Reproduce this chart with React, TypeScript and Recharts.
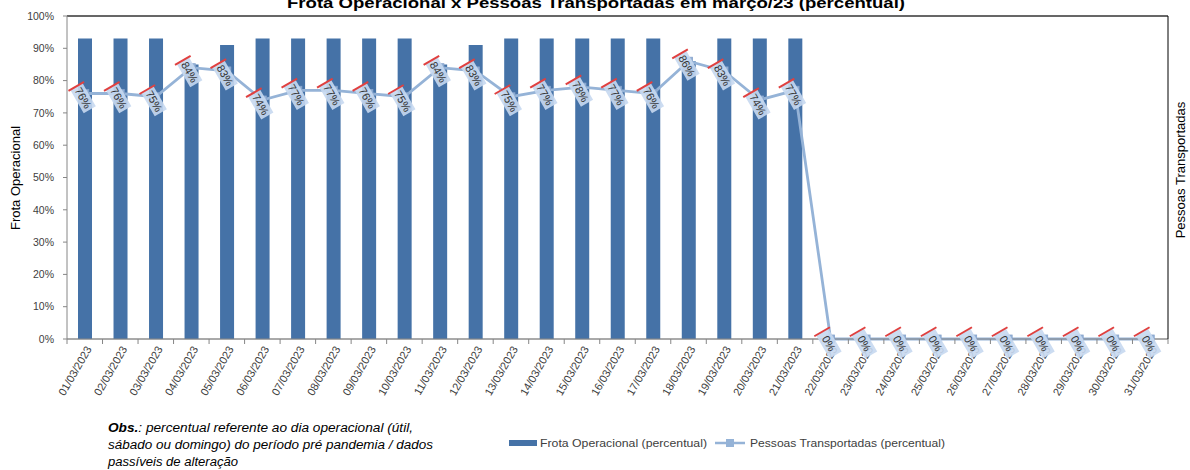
import {
  Bar,
  CartesianGrid,
  ComposedChart,
  LabelList,
  Line,
  ReferenceLine,
  XAxis,
  YAxis,
} from 'recharts';

const DATES = [
  '01/03/2023', '02/03/2023', '03/03/2023', '04/03/2023', '05/03/2023',
  '06/03/2023', '07/03/2023', '08/03/2023', '09/03/2023', '10/03/2023',
  '11/03/2023', '12/03/2023', '13/03/2023', '14/03/2023', '15/03/2023',
  '16/03/2023', '17/03/2023', '18/03/2023', '19/03/2023', '20/03/2023',
  '21/03/2023', '22/03/2023', '23/03/2023', '24/03/2023', '25/03/2023',
  '26/03/2023', '27/03/2023', '28/03/2023', '29/03/2023', '30/03/2023',
  '31/03/2023',
];

// Frota Operacional (percentual)
const FROTA = [
  93, 93, 93, 85, 91, 93, 93, 93, 93, 93, 85, 91, 93, 93, 93, 93, 93, 86, 93, 93,
  93, 0, 0, 0, 0, 0, 0, 0, 0, 0, 0,
];

// Pessoas Transportadas (percentual)
const PESSOAS = [
  76, 76, 75, 84, 83, 74, 77, 77, 76, 75, 84, 83, 75, 77, 78, 77, 76, 86, 83, 74,
  77, 0, 0, 0, 0, 0, 0, 0, 0, 0, 0,
];

const Y_TICKS = [0, 10, 20, 30, 40, 50, 60, 70, 80, 90, 100];

const TITLE = 'Frota Operacional x Pessoas Transportadas em março/23 (percentual)';
const OBS_LINES = [
  'percentual referente ao dia operacional (útil,',
  'sábado ou domingo) do período pré pandemia / dados',
  'passíveis de alteração',
];

const data = DATES.map((date, i) => ({ date, frota: FROTA[i], pessoas: PESSOAS[i] }));

const FONT = '"Liberation Sans", Arial, sans-serif';
const TEXT = '#404040';
const BAR_COLOR = '#4572A7';
const LINE_COLOR = '#95B3D7';

const PLOT_LEFT = 67;
const PLOT_RIGHT = 1168;
const BAND = (PLOT_RIGHT - PLOT_LEFT) / DATES.length;

function DateTick(props: any) {
  const { x, y, payload, index } = props;
  const half = BAND / 2;
  const tx = x + 4;
  const ty = y + 8;
  return (
    <g>
      <line x1={x - half} x2={x - half} y1={y} y2={y + 5} stroke="#868686" />
      {index === DATES.length - 1 && (
        <line x1={x + half} x2={x + half} y1={y} y2={y + 5} stroke="#868686" />
      )}
      <text
        x={tx}
        y={ty}
        dy="0.35em"
        textAnchor="end"
        transform={`rotate(-60 ${tx} ${ty})`}
        fontSize={11}
        fontFamily={FONT}
        fill={TEXT}
      >
        {payload.value}
      </text>
    </g>
  );
}

function SquareDot(props: any) {
  const { cx, cy, index } = props;
  if (cx == null || cy == null) return null;
  return (
    <rect
      key={`dot-${index}`}
      x={cx - 4}
      y={cy - 4}
      width={8}
      height={8}
      fill={LINE_COLOR}
      stroke="#87a3cc"
      strokeWidth={0.8}
    />
  );
}

function RotatedLabel(props: any) {
  const { x, y, value, index } = props;
  if (x == null || y == null) return null;
  const lx = x - 2;
  const ly = y + 4;
  return (
    <g key={`lbl-${index}`} transform={`translate(${lx} ${ly}) rotate(60)`}>
      <rect x={-13} y={-7} width={27} height={14} fill="#c6d8ef" fillOpacity={0.9} />
      <line x1={-13} x2={-13} y1={-9} y2={9} stroke="#e0403f" strokeWidth={2} />
      <text
        x={0.5}
        y={0}
        dy="0.35em"
        textAnchor="middle"
        fontSize={11}
        fontFamily={FONT}
        fill="#333"
      >
        {`${value}%`}
      </text>
    </g>
  );
}

export default function App() {
  return (
    <div style={{ position: 'fixed', left: 0, top: 0, width: 1190, height: 470, background: '#fff' }}>
      <ComposedChart
        width={1190}
        height={470}
        data={data}
        margin={{ top: 16, right: 0, left: 27, bottom: 0 }}
        barSize={14}
      >
        <CartesianGrid vertical={false} stroke="#9a9a9a" />
        <XAxis
          dataKey="date"
          interval={0}
          height={131}
          tickLine={false}
          tickSize={0}
          tickMargin={0}
          axisLine={{ stroke: '#868686' }}
          tick={<DateTick />}
        />
        <YAxis
          yAxisId="left"
          domain={[0, 100]}
          ticks={Y_TICKS}
          width={40}
          tickFormatter={(v) => `${v}%`}
          tick={{ fontSize: 10.5, fill: TEXT, fontFamily: FONT }}
          tickSize={4}
          tickMargin={9}
          tickLine={{ stroke: '#868686' }}
          axisLine={{ stroke: '#868686' }}
        />
        <YAxis
          yAxisId="right"
          orientation="right"
          domain={[0, 100]}
          ticks={Y_TICKS}
          width={22}
          tick={false}
          tickLine={false}
          axisLine={{ stroke: '#000' }}
        />
        <ReferenceLine yAxisId="left" y={100} stroke="#000" />
        <Bar yAxisId="left" dataKey="frota" fill={BAR_COLOR} isAnimationActive={false} />
        <Line
          yAxisId="right"
          dataKey="pessoas"
          stroke={LINE_COLOR}
          strokeWidth={2.8}
          dot={<SquareDot />}
          activeDot={false}
          isAnimationActive={false}
        >
          <LabelList dataKey="pessoas" content={<RotatedLabel />} />
        </Line>
      </ComposedChart>

      <svg
        width={1190}
        height={470}
        style={{ position: 'absolute', left: 0, top: 0, pointerEvents: 'none' }}
      >
        <text
          x={596}
          y={8}
          textAnchor="middle"
          fontSize={15}
          fontWeight="bold"
          fontFamily={FONT}
          fill="#000"
          textLength={618}
          lengthAdjust="spacingAndGlyphs"
        >
          {TITLE}
        </text>
        <text
          x={15}
          y={178}
          dy="0.35em"
          textAnchor="middle"
          transform="rotate(-90 15 178)"
          fontSize={13}
          fontFamily={FONT}
          fill="#000"
        >
          Frota Operacional
        </text>
        <text
          x={1180}
          y={170}
          dy="0.35em"
          textAnchor="middle"
          transform="rotate(-90 1180 170)"
          fontSize={13}
          fontFamily={FONT}
          fill="#000"
        >
          Pessoas Transportadas
        </text>

        {/* observação */}
        <text
          x={108}
          y={432}
          fontSize={12.5}
          fontStyle="italic"
          fontFamily={FONT}
          fill="#000"
          textLength={305}
          lengthAdjust="spacingAndGlyphs"
        >
          <tspan fontWeight="bold">Obs.</tspan>
          {': ' + OBS_LINES[0]}
        </text>
        <text
          x={108}
          y={449}
          fontSize={12.5}
          fontStyle="italic"
          fontFamily={FONT}
          fill="#000"
          textLength={325}
          lengthAdjust="spacingAndGlyphs"
        >
          {OBS_LINES[1]}
        </text>
        <text
          x={108}
          y={466}
          fontSize={12.5}
          fontStyle="italic"
          fontFamily={FONT}
          fill="#000"
          textLength={130}
          lengthAdjust="spacingAndGlyphs"
        >
          {OBS_LINES[2]}
        </text>

        {/* legenda */}
        <rect x={509} y={440} width={28} height={6} fill={BAR_COLOR} />
        <text
          x={540}
          y={443}
          dy="0.35em"
          fontSize={11.5}
          fontFamily={FONT}
          fill={TEXT}
          textLength={167}
          lengthAdjust="spacingAndGlyphs"
        >
          Frota Operacional (percentual)
        </text>
        <line x1={715} x2={745} y1={443} y2={443} stroke={LINE_COLOR} strokeWidth={2.5} />
        <rect x={726} y={439} width={8} height={8} fill={LINE_COLOR} />
        <text
          x={750}
          y={443}
          dy="0.35em"
          fontSize={11.5}
          fontFamily={FONT}
          fill={TEXT}
          textLength={195}
          lengthAdjust="spacingAndGlyphs"
        >
          Pessoas Transportadas (percentual)
        </text>
      </svg>
    </div>
  );
}
